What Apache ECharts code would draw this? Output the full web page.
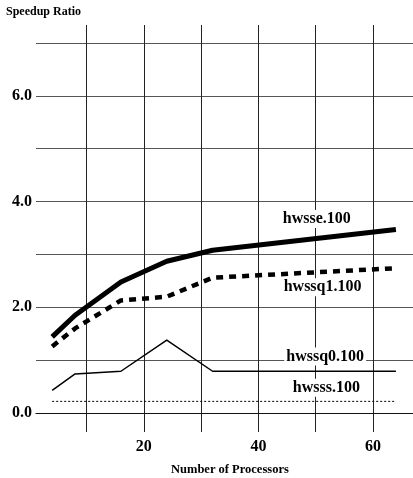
<!DOCTYPE html>
<html>
<head>
<meta charset="utf-8">
<script src="https://cdn.jsdelivr.net/npm/echarts@6/dist/echarts.min.js"></script>
<style>
  html, body { margin: 0; padding: 0; background: #fff; }
  #chart { width: 413px; height: 478px; }
</style>
</head>
<body>
<div id="chart"></div>
<script>
const processors = [4, 8, 16, 24, 32, 64];
const hwsse = [1.44, 1.85, 2.48, 2.87, 3.08, 3.47];
const hwssq1 = [1.26, 1.6, 2.13, 2.2, 2.56, 2.74];
const hwssq0 = [0.43, 0.74, 0.79, 1.38, 0.79, 0.79];
const hwsss = [0.22, 0.22, 0.22, 0.22, 0.22, 0.22];
const seriesNames = ['hwsse.100', 'hwssq1.100', 'hwssq0.100', 'hwsss.100'];
// where each curve's name is written, in data units
const labelAnchors = [[50.2, 3.67], [51.2, 2.38], [51.65, 1.07], [51.86, 0.48]];
const xTickLabels = [20, 40, 60];
const yTickLabels = [0, 2, 4, 6];

const serif = "'Liberation Serif', 'Times New Roman', serif";
const chart = echarts.init(document.getElementById('chart'), null, { renderer: 'canvas' });

const lineStyles = [
  { width: 5, type: 'solid' },
  { width: 4.5, type: [7, 6], cap: 'butt' },
  { width: 1.5, type: 'solid' },
  { width: 1, type: [2, 2] }
];

const seriesData = [hwsse, hwssq1, hwssq0, hwsss].map((vals, i) => ({
  name: seriesNames[i],
  type: 'line',
  xAxisIndex: 1,
  yAxisIndex: 1,
  symbol: 'none',
  silent: true,
  data: processors.map((p, j) => [p, vals[j]]),
  lineStyle: Object.assign({ color: '#000', join: 'round' }, lineStyles[i]),
  markPoint: {
    symbol: 'rect',
    symbolSize: 1,
    silent: true,
    itemStyle: { color: 'rgba(0,0,0,0)' },
    label: {
      show: true,
      position: 'inside',
      formatter: seriesNames[i],
      fontFamily: serif,
      fontWeight: 'bold',
      fontSize: 16,
      color: '#000',
      backgroundColor: '#fff',
      padding: [1, 2]
    },
    data: [{ coord: labelAnchors[i] }]
  }
}));

const option = {
  animation: false,
  backgroundColor: '#fff',
  title: [
    {
      text: 'Speedup Ratio', left: 6, top: 6, padding: 0,
      textStyle: { fontFamily: serif, fontWeight: 'bold', fontSize: 12, color: '#000' }
    },
    {
      text: 'Number of Processors', left: 171, top: 463, padding: 0,
      textStyle: { fontFamily: serif, fontWeight: 'bold', fontSize: 12.5, color: '#000' }
    }
  ],
  grid: [
    // horizontal rules 0..7
    { left: 36, right: 0, top: 43, bottom: 65 },
    // data + vertical rules
    { left: 29.26, right: 0, top: 25, bottom: 46 }
  ],
  xAxis: [
    {
      gridIndex: 0, type: 'value', min: 0, max: 10,
      axisLine: { show: true, lineStyle: { color: '#111', width: 1.2 } },
      axisTick: { show: false }, axisLabel: { show: false }, splitLine: { show: false }
    },
    {
      gridIndex: 1, type: 'value', min: 0, max: 66.46, interval: 10,
      axisLine: { show: false }, axisTick: { show: false },
      axisLabel: {
        margin: 7, fontFamily: serif, fontWeight: 'bold', fontSize: 16, color: '#000',
        formatter: v => (xTickLabels.includes(v) ? String(v) : '')
      },
      splitLine: { show: true, showMinLine: false, showMaxLine: false, lineStyle: { color: '#222', width: 1 } }
    }
  ],
  yAxis: [
    {
      gridIndex: 0, type: 'value', min: 0, max: 7, interval: 1,
      axisLine: { show: false }, axisTick: { show: false },
      axisLabel: {
        margin: 4, fontFamily: serif, fontWeight: 'bold', fontSize: 16, color: '#000',
        formatter: v => (yTickLabels.includes(v) ? v.toFixed(1) : '')
      },
      splitLine: { show: true, lineStyle: { color: '#555', width: 1 } }
    },
    {
      gridIndex: 1, type: 'value', min: -0.3594, max: 7.3405,
      show: false, splitLine: { show: false }
    }
  ],
  series: seriesData
};

chart.setOption(option);
</script>
</body>
</html>
